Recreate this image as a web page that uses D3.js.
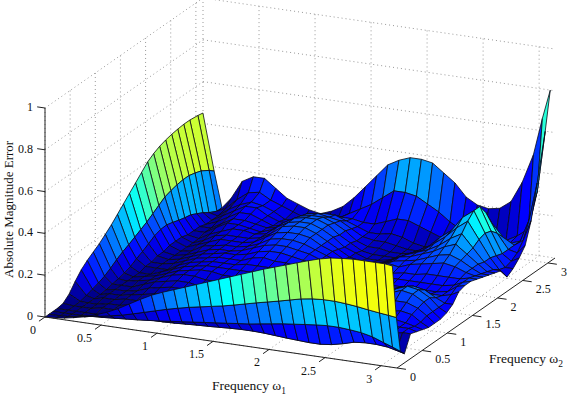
<!doctype html>
<meta charset="utf-8">
<style type="text/css">
  body { margin: 0; background: #fff; }
  text { font-family: "Liberation Serif", serif; font-size: 12px; fill: #111; }
</style>
<body>
<script src="https://d3js.org/d3.v7.min.js"></script>
<script>

// grid nodes of the surface
let w1Nodes = [0,.1,.17,.25,.35,.45,.55,.65,.75,.85,.95,1.05,1.15,1.25,1.35,1.45,1.55,1.65,1.75,1.85,1.95,2.05,2.15,2.25,2.35,2.45,2.55,2.65,2.75,2.85,2.95,3.03,3.1];
let w2Nodes = [0,.08,.16,.24,.36,.48,.6,.72,.84,.96,1.08,1.2,1.32,1.44,1.56,1.68,1.8,1.92,2.04,2.16,2.28,2.4,2.52,2.64,2.76,2.88,3.04,3.14];

// error in hundredths, one row per w2 node
let errorRows = [
  [0,.3,.8,1.6,2.8,4.5,6.5,9,12,15,17.8,20,22,24,26,28,30,32,34,36,38,39.8,41.6,43.4,45.2,46.8,48,48.6,49,49,49,49,48.5],
  [0,0,.2,.8,1.6,2.5,3.5,4.6,6,7.5,9,10.5,11.8,13,14,15,16,17.2,18.5,19.8,21,22.2,23.5,24.8,25.6,26,26,25.6,25,24.2,23.5,23,22.5],
  [0,0,0,0,.3,.6,1,1.4,1.8,2.3,2.8,3.4,4,4.6,5.2,5.8,6.4,7,7.6,8.4,9.2,10,10.6,11.2,11.8,12.2,12.2,11.8,11.2,10,8,6.5,5],
  [0,0,0,0,0,.3,.5,.8,1,1,1,1.2,1.5,1.8,2,2.3,2.6,2.8,2.8,2.6,2.2,1.8,1.5,1.2,1.2,1.8,3,4.5,5,5,4.5,3.5,2.5],
  [.5,0,0,0,1,1,1,2,2,2,3,3,3,3,3,3,3,3,4,4,4,4,4,4,4,4,5,6,7,8,9,10,10],
  [3,.2,0,0,1,1,2,2,3,3,3,4,4,4,4,4,4,4,4,4,5,5,5,5,5,6,7,8,9,10,10,10,9],
  [7,1,0,1,1,2,2,3,4,4,4,4,4,4,4,4,4,4,5,5,5,5,5,5,6,7,8,9,10,11,10,9,8],
  [10.5,2,0,1,1,2,3,4,5,5,5,5,4,4,4,4,4,5,5,5,5,5,5,6,7,8,9,10,12,13,12,9,7],
  [13,3,.3,1,1,2,4,5,6,6,6,5,5,5,5,5,5,5,5,5,5,5,6,6,7,8,10,14,15,15,13,10,7],
  [15,4.2,1,1,1,3,5,6,7,7,6,6,6,6,6,6,6,5,5,5,5,6,6,7,8,9,12,16,18,17,14,10,7],
  [17,6,1.5,1,2,3,5,7,8,8,7,7,7,7,7,7,6,6,6,6,6,6,7,8,9,10,13,16,18,17,14,10,8],
  [19.5,8,2.2,1,2,3,5,7,8,9,9,8,8,8,8,8,7,7,7,7,7,7,8,9,10,11,13,15,16,15,12,10,10],
  [22,9.8,3.3,1,1,3,5,7,8,9,9,9,9,9,9,9,8,8,8,8,8,8,9,10,10,10,11,11,11,11,11,12,14],
  [25,11.2,5,2,2,2,5,7,8,9,9,9,10,10,10,10,9,9,9,9,9,9,10,11,10,10,10,10,10,10,11,14,15],
  [28,12.8,6.5,2,2,3,5,7,8,9,9,9,11,12,11,11,10,9,9,9,9,10,11,12,11,11,11,11,11,11,12,14,15],
  [31,14.4,8.2,3,2,3,5,7,8,9,9,10,12,13,13,12,11,10,9,9,9,10,11,13,11,12,12,13,13,13,13,14,14],
  [34,16,10,3,2,3,5,7,8,8,9,11,13,14,14,13,12,10,9,8,8,9,10,13,12,14,15,16,17,16,14,13,13],
  [37,18,11,4,2,3,6,7,8,8,9,11,14,15,15,14,12,10,8,7,7,8,10,12,13,14,16,18,19,17,14,12,12],
  [40,20,11.2,4,2,4,6,8,8,8,9,12,15,16,16,15,12,10,7,6,6,7,9,12,13,15,17,20,22,18,14,11,11],
  [42,22,10.4,4,2,4,7,8,8,8,9,12,16,17,17,15,12,9,6,5,5,6,8,11,13,15,18,22,25,19,13,10,10],
  [43.5,23,9.4,3,2,5,7,9,9,8,9,13,16,17,17,15,12,8,6,4,4,5,7,10,12,16,20,25,29,21,13,8,5],
  [44.5,23.8,8.6,3,3,6,9,9,8,7,9,13,16,17,17,15,11,8,5,4,4,4,6,9,12,17,21,28,32,22,12,7,7],
  [45.2,24.2,8,3,3,6,9,9,8,7,8,12,15,16,16,14,11,7,5,5,4,4,5,7,10,14,19,26,32,21,11,8,10],
  [45.7,24.2,6.5,2,4,7,10,10,8,6,7,11,14,15,14,13,10,7,6,6,5,4,4,5,8,11,15,20,27,18,11,10,14],
  [46,23.4,5,2,5,8,11,11,8,6,6,9,12,13,13,11,9,7,7,8,7,5,4,4,5,7,9,13,20,14,11,14,24],
  [46,22.4,3,2,6,9,11,10,8,5,5,7,9,10,10,10,9,9,11,13,13,11,9,7,6,5,6,8,12,9,11,22,40],
  [45.5,20,1,3,8,12,13,10,8,6,4,3,4,6,9,12,15,19,23,23,22,19,16,12,9,7,5,5,7,10,14,33,62],
  [45,18,1,6,15,18,18,14,10,8,6,5,7,10,15,21,27,33,36,38,38,37,33,29,23,20,19,20,24,34,48,66,80]
];

let freqTicks = [0, 0.5, 1, 1.5, 2, 2.5, 3];
let errorTicks = [0, 0.2, 0.4, 0.6, 0.8, 1];
let jetStops = ["#000080", "#0000ff", "#00ffff", "#ffff00", "#ff0000", "#800000"];

let width = 568,
    height = 400;

let svg = d3.select('body')
    .append('svg')
    .attr('width', width)
    .attr('height', height);

// oblique projection: each data axis adds its own screen offset
let freqMax = Math.PI;
let w1X = d3.scaleLinear().domain([0, freqMax]).range([45, 397]),
    w1Y = d3.scaleLinear().domain([0, freqMax]).range([317, 368]),
    w2X = d3.scaleLinear().domain([0, freqMax]).range([0, 158]),
    w2Y = d3.scaleLinear().domain([0, freqMax]).range([0, -110]),
    errY = d3.scaleLinear().domain([0, 1]).range([0, -209]);

let color = d3.scaleLinear()
    .domain([0, .125, .375, .625, .875, 1].map(d => d * 0.8))
    .range(jetStops)
    .clamp(true);

function px(a, b) { return w1X(a) + w2X(b); }
function py(a, b, e) { return w1Y(a) + w2Y(b) + errY(e); }

function seg(g, a0, b0, e0, a1, b1, e1) {
  return g.append('line')
      .attr('x1', px(a0, b0)).attr('y1', py(a0, b0, e0))
      .attr('x2', px(a1, b1)).attr('y2', py(a1, b1, e1));
}

// dotted grid on floor and the two back walls
let grid = svg.append('g')
    .attr('stroke', '#999')
    .attr('stroke-width', 1)
    .attr('stroke-dasharray', '1 3');

freqTicks.forEach(function(t) {
  seg(grid, t, 0, 0, t, freqMax, 0);
  seg(grid, 0, t, 0, freqMax, t, 0);
  seg(grid, t, freqMax, 0, t, freqMax, 1);
  seg(grid, 0, t, 0, 0, t, 1);
});
errorTicks.forEach(function(t) {
  seg(grid, 0, 0, t, 0, freqMax, t);
  seg(grid, 0, freqMax, t, freqMax, freqMax, t);
});

// facets far to near, flat colour from the lower index corner like surf does
let facets = [];
d3.range(w2Nodes.length - 2, -1, -1).forEach(function(j) {
  d3.range(0, w1Nodes.length - 1).forEach(function(i) {
    facets.push({i: i, j: j});
  });
});

let facetLine = d3.line()
    .x(d => px(w1Nodes[d[0]], w2Nodes[d[1]]))
    .y(d => py(w1Nodes[d[0]], w2Nodes[d[1]], errorRows[d[1]][d[0]] / 100));

svg.append('g')
    .selectAll('path')
    .data(facets)
  .enter().append('path')
    .attr('d', d => facetLine([[d.i, d.j], [d.i + 1, d.j], [d.i + 1, d.j + 1], [d.i, d.j + 1]]) + 'Z')
    .attr('fill', d => color(errorRows[d.j][d.i] / 100))
    .attr('stroke', '#0a0a14')
    .attr('stroke-width', 0.8)
    .attr('stroke-linejoin', 'round');

// axes
let axes = svg.append('g')
    .attr('stroke', '#222')
    .attr('stroke-width', 1);

seg(axes, 0, 0, 0, 0, 0, 1);
seg(axes, 0, 0, 0, freqMax, 0, 0);
seg(axes, freqMax, 0, 0, freqMax, freqMax, 0);

errorTicks.forEach(function(t) {
  seg(axes, 0, 0, t, -0.07, 0, t);
  svg.append('text')
      .attr('x', 33)
      .attr('y', py(0, 0, t) + 3)
      .attr('text-anchor', 'end')
      .text(t);
});

freqTicks.forEach(function(t) {
  seg(axes, t, 0, 0, t, -0.12, 0);
  svg.append('text')
      .attr('x', px(t, 0) - 9)
      .attr('y', py(t, 0, 0) + 17)
      .attr('text-anchor', 'end')
      .text(t);

  seg(axes, freqMax, t, 0, freqMax + 0.08, t, 0);
  svg.append('text')
      .attr('x', px(freqMax, t) + 13)
      .attr('y', py(freqMax, t, 0) + 13)
      .text(t);
});

svg.append('text')
    .attr('transform', 'translate(13,278) rotate(-90)')
    .style('font-size', '13px')
    .text('Absolute Magnitude Error');

function freqLabel(x, y, sub) {
  let t = svg.append('text')
      .attr('x', x)
      .attr('y', y)
      .style('font-size', '13.5px')
      .text('Frequency \u03c9');
  t.append('tspan')
      .attr('dy', 4)
      .style('font-size', '9.5px')
      .text(sub);
}
freqLabel(212, 390, '1');
freqLabel(489, 363, '2');

</script>
